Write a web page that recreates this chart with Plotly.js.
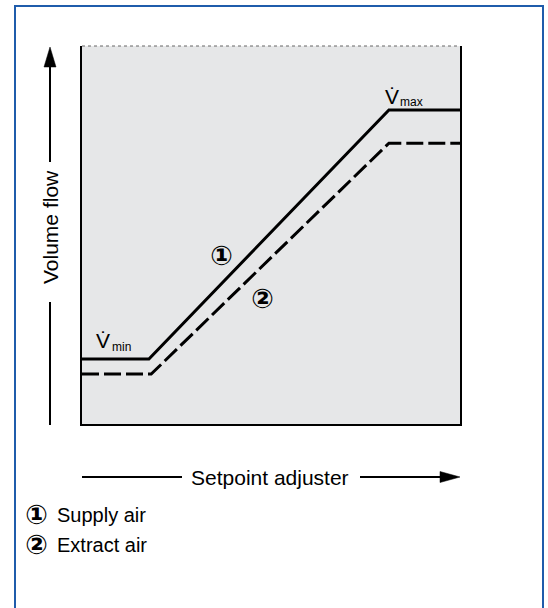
<!DOCTYPE html>
<html>
<head>
<meta charset="utf-8">
<script src="https://cdn.plot.ly/plotly-3.0.1.min.js"></script>
<style>
  html, body { margin: 0; padding: 0; background: #ffffff; }
  #chart { width: 548px; height: 608px; }
</style>
</head>
<body>
<div id="chart"></div>
<script>
// ---- Data (relative units 0-100) ----
const supplySetpoint = [0, 17.7, 81.2, 100];
const supplyAir      = [17.2, 17.2, 83.1, 83.1];
const extractSetpoint = [0, 18.3, 81.2, 100];
const extractAir      = [13.2, 13.2, 74.3, 74.3];

const seriesNames = ['Supply air', 'Extract air'];
const seriesMarks = ['\u2460', '\u2461'];
const axisTitles = { x: 'Setpoint adjuster', y: 'Volume flow' };
const limitLabels = { min: 'min', max: 'max' };

// ---- Layout geometry (pixels) ----
const W = 548, H = 608;
const PL = 82, PR = 460, PT = 46, PB = 424;
const PW = PR - PL, PH = PB - PT;
const xp = px => (px - PL) / PW;
const yp = py => (PB - py) / PH;

const FONT = 'Liberation Sans, Arial, Helvetica, DejaVu Sans, Noto Sans CJK JP, sans-serif';
const BLACK = '#000000';

const traces = [
  {
    x: supplySetpoint, y: supplyAir, mode: 'lines', name: seriesNames[0],
    line: { color: BLACK, width: 3, shape: 'linear' }, hoverinfo: 'skip'
  },
  {
    x: extractSetpoint, y: extractAir, mode: 'lines', name: seriesNames[1],
    line: { color: BLACK, width: 3, dash: '17px,5px' }, hoverinfo: 'skip'
  }
];

function tri(p1, p2, p3) {
  return 'M' + xp(p1[0]) + ',' + yp(p1[1]) + ' L' + xp(p2[0]) + ',' + yp(p2[1]) +
         ' L' + xp(p3[0]) + ',' + yp(p3[1]) + ' Z';
}

const shapes = [
  { type: 'rect', xref: 'paper', yref: 'paper', x0: xp(15), x1: xp(543), y0: yp(630), y1: yp(6),
    line: { color: '#1f5cab', width: 2 }, fillcolor: 'rgba(0,0,0,0)', layer: 'below' },
  { type: 'line', xref: 'paper', yref: 'paper', x0: 0, x1: 1, y0: 1, y1: 1,
    line: { color: '#666666', width: 1, dash: 'dot' } },
  { type: 'line', xref: 'paper', yref: 'paper', x0: xp(50), x1: xp(50), y0: yp(425), y1: yp(302),
    line: { color: BLACK, width: 2 } },
  { type: 'line', xref: 'paper', yref: 'paper', x0: xp(50), x1: xp(50), y0: yp(162), y1: yp(64),
    line: { color: BLACK, width: 2 } },
  { type: 'path', xref: 'paper', yref: 'paper', path: tri([44, 67], [50, 47], [56, 67]),
    fillcolor: BLACK, line: { color: BLACK, width: 0.5 } },
  { type: 'line', xref: 'paper', yref: 'paper', x0: xp(82), x1: xp(182), y0: yp(477), y1: yp(477),
    line: { color: BLACK, width: 2 } },
  { type: 'line', xref: 'paper', yref: 'paper', x0: xp(360), x1: xp(443), y0: yp(477), y1: yp(477),
    line: { color: BLACK, width: 2 } },
  { type: 'path', xref: 'paper', yref: 'paper', path: tri([440, 471.5], [460, 477], [440, 482.5]),
    fillcolor: BLACK, line: { color: BLACK, width: 0.5 } }
];

function label(px, py, text, size, opts) {
  return Object.assign({
    xref: 'paper', yref: 'paper', x: xp(px), y: yp(py), text: text, showarrow: false,
    xanchor: 'center', yanchor: 'middle',
    font: { family: FONT, size: size, color: BLACK }
  }, opts || {});
}
const boldMark = { family: FONT, size: 27, color: BLACK, weight: 700 };

const annotations = [
  label(50, 227, axisTitles.y, 21, { textangle: -90 }),
  label(270, 477, axisTitles.x, 21),
  // legend
  label(36, 515, seriesMarks[0], 27, { font: boldMark }),
  label(55, 515, seriesNames[0], 20, { xanchor: 'left' }),
  label(36, 545, seriesMarks[1], 27, { font: boldMark }),
  label(55, 545, seriesNames[1], 20, { xanchor: 'left' }),
  // curve markers
  label(221, 256, seriesMarks[0], 27, { font: boldMark }),
  label(262, 299, seriesMarks[1], 27, { font: boldMark }),
  // V-dot min / max
  label(102.5, 340, 'V\u0307', 21),
  label(110, 347, limitLabels.min, 12, { xanchor: 'left' }),
  label(392, 96, 'V\u0307', 21),
  label(398, 102, limitLabels.max, 12, { xanchor: 'left' })
];

const layout = {
  width: W, height: H,
  margin: { l: PL, r: W - PR, t: PT, b: H - PB, pad: 0 },
  paper_bgcolor: '#ffffff',
  plot_bgcolor: '#e6e7e8',
  showlegend: false,
  xaxis: { range: [0, 100], showgrid: false, zeroline: false, showticklabels: false, ticks: '',
           showline: true, linecolor: BLACK, linewidth: 2, mirror: false, fixedrange: true },
  yaxis: { range: [0, 100], showgrid: false, zeroline: false, showticklabels: false, ticks: '',
           showline: true, linecolor: BLACK, linewidth: 2, mirror: true, fixedrange: true },
  shapes: shapes,
  annotations: annotations,
  font: { family: FONT, color: BLACK }
};

Plotly.newPlot('chart', traces, layout, { staticPlot: true, displayModeBar: false });
</script>
</body>
</html>
